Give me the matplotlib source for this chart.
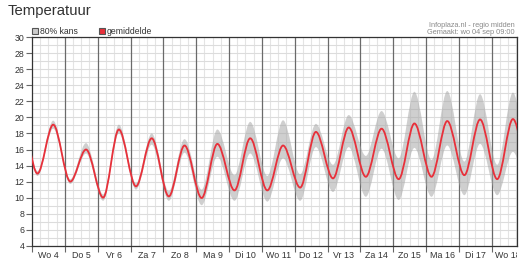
import matplotlib
matplotlib.use("Agg")
import numpy as np
import matplotlib.pyplot as plt
from matplotlib.path import Path
from matplotlib.patches import PathPatch, Rectangle

plt.rcParams["font.family"] = ["Liberation Sans", "DejaVu Sans"]

# --- data (temperature in degrees C) ---
days = ["Wo 4", "Do 5", "Vr 6", "Za 7", "Zo 8", "Ma 9", "Di 10", "Wo 11",
        "Do 12", "Vr 13", "Za 14", "Zo 15", "Ma 16", "Di 17", "Wo 18"]
trough_hour = 4.0    # time of the daily minimum
peak_hour = 15.5     # time of the daily maximum

# gemiddelde (mean forecast)
mean_min = [13.0, 12.0, 10.0, 11.4, 10.15, 9.95, 10.9, 10.9, 11.25, 12.4,
            12.6, 12.3, 12.6, 12.8, 12.3]
mean_max = [19.1, 16.0, 18.5, 17.4, 16.5, 16.7, 17.4, 16.5, 18.2, 18.75,
            18.6, 19.25, 19.55, 19.75, 19.8]

# 80% kans band at the minimum and the maximum of each day
band_min_lo = [12.7, 11.7, 9.6, 11.0, 9.6, 9.05, 9.6, 9.5, 9.6, 10.7,
               10.1, 9.7, 10.1, 10.3, 10.3]
band_min_hi = [13.3, 12.3, 10.4, 11.8, 10.8, 11.0, 12.8, 12.7, 12.9, 14.1,
               15.2, 14.9, 14.7, 14.5, 14.1]
band_max_lo = [18.6, 15.5, 18.0, 16.6, 15.6, 15.1, 15.5, 14.9, 16.3, 16.3,
               16.1, 16.2, 16.5, 16.7, 15.7]
band_max_hi = [19.6, 16.8, 19.1, 18.0, 17.3, 18.5, 19.45, 19.65, 19.2, 20.3,
               20.8, 23.2, 23.3, 22.9, 23.1]

# values just outside the visible window (mean, low, high)
prev_peak = [20.5, 20.2, 20.8]
next_trough = [12.8, 10.4, 14.4]

n = len(days)
t = [-1 + peak_hour / 24]
mean_v, lo_v, hi_v = [prev_peak[0]], [prev_peak[1]], [prev_peak[2]]
for d in range(n):
    t += [d + trough_hour / 24, d + peak_hour / 24]
    mean_v += [mean_min[d], mean_max[d]]
    lo_v += [band_min_lo[d], band_max_lo[d]]
    hi_v += [band_min_hi[d], band_max_hi[d]]
t.append(n + trough_hour / 24)
mean_v.append(next_trough[0])
lo_v.append(next_trough[1])
hi_v.append(next_trough[2])


def spline(ts, vs):
    # smooth curve between the extremes, flat at each extreme
    verts = [(ts[0], vs[0])]
    codes = [Path.MOVETO]
    for i in range(1, len(ts)):
        dt = ts[i] - ts[i - 1]
        verts += [(ts[i - 1] + dt / 3, vs[i - 1]), (ts[i] - dt / 3, vs[i]),
                  (ts[i], vs[i])]
        codes += [Path.CURVE4] * 3
    return verts, codes


fig = plt.figure(figsize=(5.25, 2.6), dpi=100)
ax = fig.add_axes([32 / 525, 1 - 245.7 / 260, 485 / 525, 208.4 / 260])

# band
uv, uc = spline(t, hi_v)
lv, lc = spline(t[::-1], lo_v[::-1])
lc[0] = Path.LINETO
band = Path(uv + lv + [uv[0]], uc + lc + [Path.CLOSEPOLY])
ax.add_patch(PathPatch(band, facecolor="#a8a8a8", edgecolor="none",
                       alpha=0.55, zorder=2))

# mean line
mv, mc = spline(t, mean_v)
ax.add_patch(PathPatch(Path(mv, mc), facecolor="none", edgecolor="#e8303a",
                       lw=1.3, zorder=3))

ax.set_xlim(0, 14.77)
ax.set_ylim(4, 30)

ax.set_yticks(np.arange(4, 31, 2))
ax.set_yticks(np.arange(5, 30, 2), minor=True)
ax.set_xticks(np.arange(0, n))
quarters = [d + q for d in range(n) for q in (0.25, 0.5, 0.75)]
ax.set_xticks(quarters, minor=True)
ax.set_xticklabels([])

ax.set_axisbelow(True)
ax.grid(axis="y", which="both", color="#dcdcdc", lw=0.8)
ax.grid(axis="x", which="minor", color="#e4e4e4", lw=0.8)

# day separators on top of the light grid
for d in range(1, n):
    ax.axvline(d, color="#6a6a6a", lw=0.9, zorder=1)

ax.tick_params(axis="both", which="major", length=4, width=0.8,
               color="#666666", labelsize=6.3, labelcolor="#333333", pad=1.5)
ax.tick_params(axis="both", which="minor", length=0)

# day labels, cut off at the right edge of the plot like the original
label_clip = Rectangle((0, 0), 517 / 525, 1, transform=fig.transFigure)
for d in range(n):
    txt = ax.text(d + 0.5, -0.025, days[d], transform=ax.get_xaxis_transform(),
                  ha="center", va="top", fontsize=6.4, color="#333333",
                  clip_on=True)
    txt.set_clip_path(label_clip)

for s in ax.spines.values():
    s.set_color("#333333")
    s.set_linewidth(0.9)

# title, legend, source text
fig.text(8 / 525, 1 - 15 / 260, "Temperatuur", fontsize=10.7,
         color="#333333", va="baseline")

fig.add_artist(Rectangle((31.7 / 525, 1 - 34.3 / 260), 6 / 525, 6 / 260,
                         transform=fig.transFigure, facecolor="#cccccc",
                         edgecolor="#555555", lw=0.8))
fig.text(39.5 / 525, 1 - 34.3 / 260, "80% kans", fontsize=6.2,
         color="#333333", va="baseline")
fig.add_artist(Rectangle((99 / 525, 1 - 34.3 / 260), 6 / 525, 6 / 260,
                         transform=fig.transFigure, facecolor="#e8303a",
                         edgecolor="#555555", lw=0.8))
fig.text(106.7 / 525, 1 - 34.3 / 260, "gemiddelde", fontsize=6.2,
         color="#333333", va="baseline")

fig.text(515 / 525, 1 - 26.8 / 260, "Infoplaza.nl - regio midden",
         fontsize=5.3, color="#8a8a8a", ha="right", va="baseline")
fig.text(515 / 525, 1 - 34.3 / 260, "Gemaakt: wo 04 sep 09:00",
         fontsize=5.3, color="#8a8a8a", ha="right", va="baseline")

fig.savefig("out.png", dpi=100)
